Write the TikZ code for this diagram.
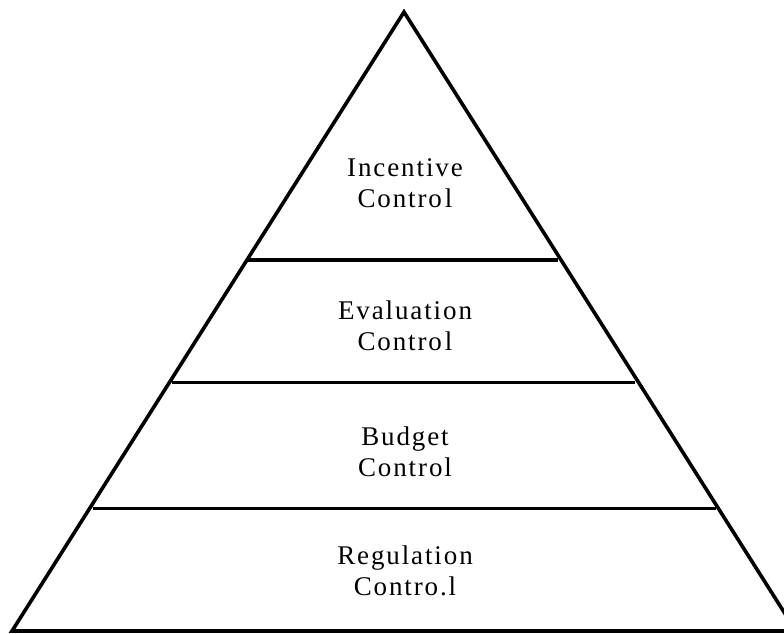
\documentclass[tikz,border=0pt]{standalone}
\usepackage{fontspec}
\setmainfont{Liberation Serif}[LetterSpace=7]
\begin{document}
\begin{tikzpicture}[x=1pt,y=-1pt,
  lbl/.style={align=center,font=\fontsize{27}{31}\selectfont,inner sep=0pt},
  edge/.style={line width=3.6pt,line join=miter},
  tier/.style={line width=3pt}]
\useasboundingbox (0,0) rectangle (784,633);
\coordinate (apex) at (404,12);
\coordinate (bl) at (12,631);
\coordinate (br) at (796,631);
\draw[edge] (apex) -- (bl) -- (br) -- cycle;
\coordinate (a1) at (248,260); \coordinate (b1) at (558,260);
\coordinate (a2) at (172,382); \coordinate (b2) at (635,382);
\coordinate (a3) at (93,508); \coordinate (b3) at (716,508);
\draw[tier,line width=4.2pt] (a1) -- (b1);
\draw[tier] (a2) -- (b2);
\draw[tier] (a3) -- (b3);
\node[lbl] (n1) at (405,183) {Incentive\\Contro\kern3pt l};
\node[lbl] (n2) at (405,326) {Evaluation\\Contro\kern3pt l};
\node[lbl] (n3) at (405,452) {Budget\\Control};
\node[lbl] (n4) at (405,571) {Regulation\\Contro.l};
\end{tikzpicture}
\end{document}
